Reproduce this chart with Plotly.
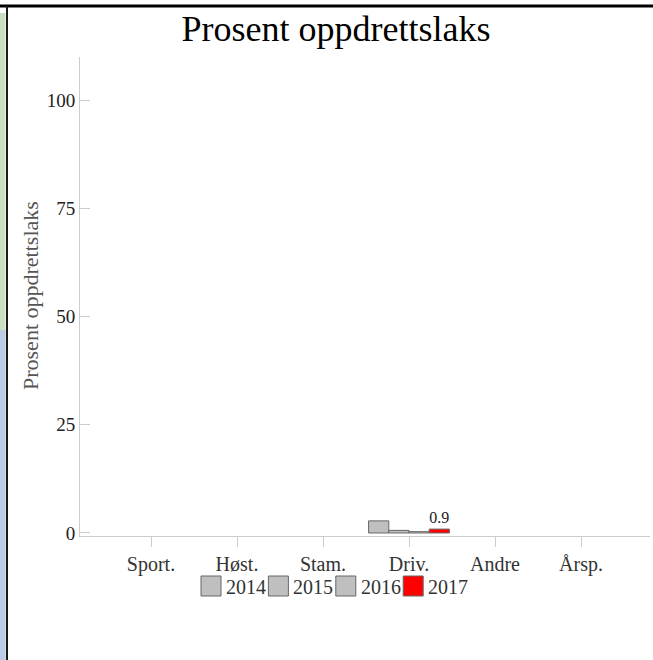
import plotly.graph_objects as go

# ---- data ----
categories = ["Sport.", "Høst.", "Stam.", "Driv.", "Andre", "Årsp."]
years = ["2014", "2015", "2016", "2017"]
values_2014 = [None, None, None, 2.8, None, None]
values_2015 = [None, None, None, 0.6, None, None]
values_2016 = [None, None, None, 0.3, None, None]
values_2017 = [None, None, None, 0.9, None, None]
y_ticks = [0, 25, 50, 75, 100]
series_values = [values_2014, values_2015, values_2016, values_2017]
series_colors = ["#bfbfbf", "#bfbfbf", "#bfbfbf", "#ff0000"]

FONT = "Liberation Serif"
W, H = 653, 660
ML, MR, MT, MB = 80, 3, 57, 124
PW = W - ML - MR
PH = H - MT - MB


def px(x):
    return (x - ML) / PW


def py(y):
    return (H - MB - y) / PH


fig = go.Figure()
for name, vals, col in zip(years, series_values, series_colors):
    is_last = name == years[-1]
    fig.add_trace(go.Bar(
        x=categories, y=vals, name=name,
        marker=dict(color=col, line=dict(color="#666666", width=1)),
        text=[("" if v is None else f"{v:g}") for v in vals] if is_last else None,
        textposition="outside" if is_last else None,
        textfont=dict(family=FONT, size=16, color="#222222"),
        cliponaxis=False,
        showlegend=False,
    ))

shapes = []
annotations = []
# custom legend built from the series names/colours
leg_x0 = 201
leg_step = 67.4
for i, (name, col) in enumerate(zip(years, series_colors)):
    x0 = leg_x0 + i * leg_step
    shapes.append(dict(type="rect", xref="paper", yref="paper",
                       x0=px(x0), x1=px(x0 + 20), y0=py(596), y1=py(576),
                       fillcolor=col, line=dict(color="#666666", width=1)))
    annotations.append(dict(xref="paper", yref="paper", x=px(x0 + 23), y=py(587),
                            xanchor="left", yanchor="middle", showarrow=False,
                            text=name, font=dict(family=FONT, size=20, color="#333333")))

# y axis title
annotations.append(dict(xref="paper", yref="paper", x=px(30), y=py(296),
                        xanchor="center", yanchor="middle", showarrow=False, textangle=-90,
                        text="Prosent oppdrettslaks",
                        font=dict(family=FONT, size=22, color="#555555")))

# page frame: top rule, left rule and strip of neighbouring image
shapes.append(dict(type="rect", xref="paper", yref="paper", layer="above",
                   x0=px(0), x1=px(5.5), y0=py(660), y1=py(13),
                   fillcolor="#c9dfc0", line=dict(width=0)))
shapes.append(dict(type="rect", xref="paper", yref="paper", layer="above",
                   x0=px(0), x1=px(5.5), y0=py(660), y1=py(330),
                   fillcolor="#bccbe8", line=dict(width=0)))
shapes.append(dict(type="rect", xref="paper", yref="paper", layer="above",
                   x0=px(0), x1=px(653), y0=py(7.5), y1=py(4.5),
                   fillcolor="#000000", line=dict(width=0)))
shapes.append(dict(type="rect", xref="paper", yref="paper", layer="above",
                   x0=px(6), x1=px(8), y0=py(660), y1=py(6),
                   fillcolor="#1a1a1a", line=dict(width=0)))

fig.update_layout(
    width=W, height=H,
    margin=dict(l=ML, r=MR, t=MT, b=MB),
    paper_bgcolor="white", plot_bgcolor="white",
    barmode="group", bargap=0.06, bargroupgap=0,
    title=dict(text="Prosent oppdrettslaks", xref="container", x=336 / W,
               xanchor="center", yref="container", y=1 - 28 / H, yanchor="middle",
               font=dict(family=FONT, size=36, color="#000000")),
    xaxis=dict(
        type="category", range=[-0.8256, 5.8023],
        showline=True, linecolor="#cccccc", linewidth=1,
        ticks="outside", ticklen=10, tickcolor="#cccccc",
        showgrid=False, zeroline=False,
        tickfont=dict(family=FONT, size=20, color="#333333"),
    ),
    yaxis=dict(
        range=[-0.7, 110], tickvals=y_ticks,
        showline=True, linecolor="#cccccc", linewidth=1,
        ticks="inside", ticklen=10, tickcolor="#cccccc",
        showgrid=False, zeroline=False,
        tickfont=dict(family=FONT, size=19, color="#222222"),
    ),
    shapes=shapes, annotations=annotations,
)

fig.write_html("out.html",
               config={"displayModeBar": False},
               post_script="document.body.style.margin='0';document.body.style.padding='0';")
